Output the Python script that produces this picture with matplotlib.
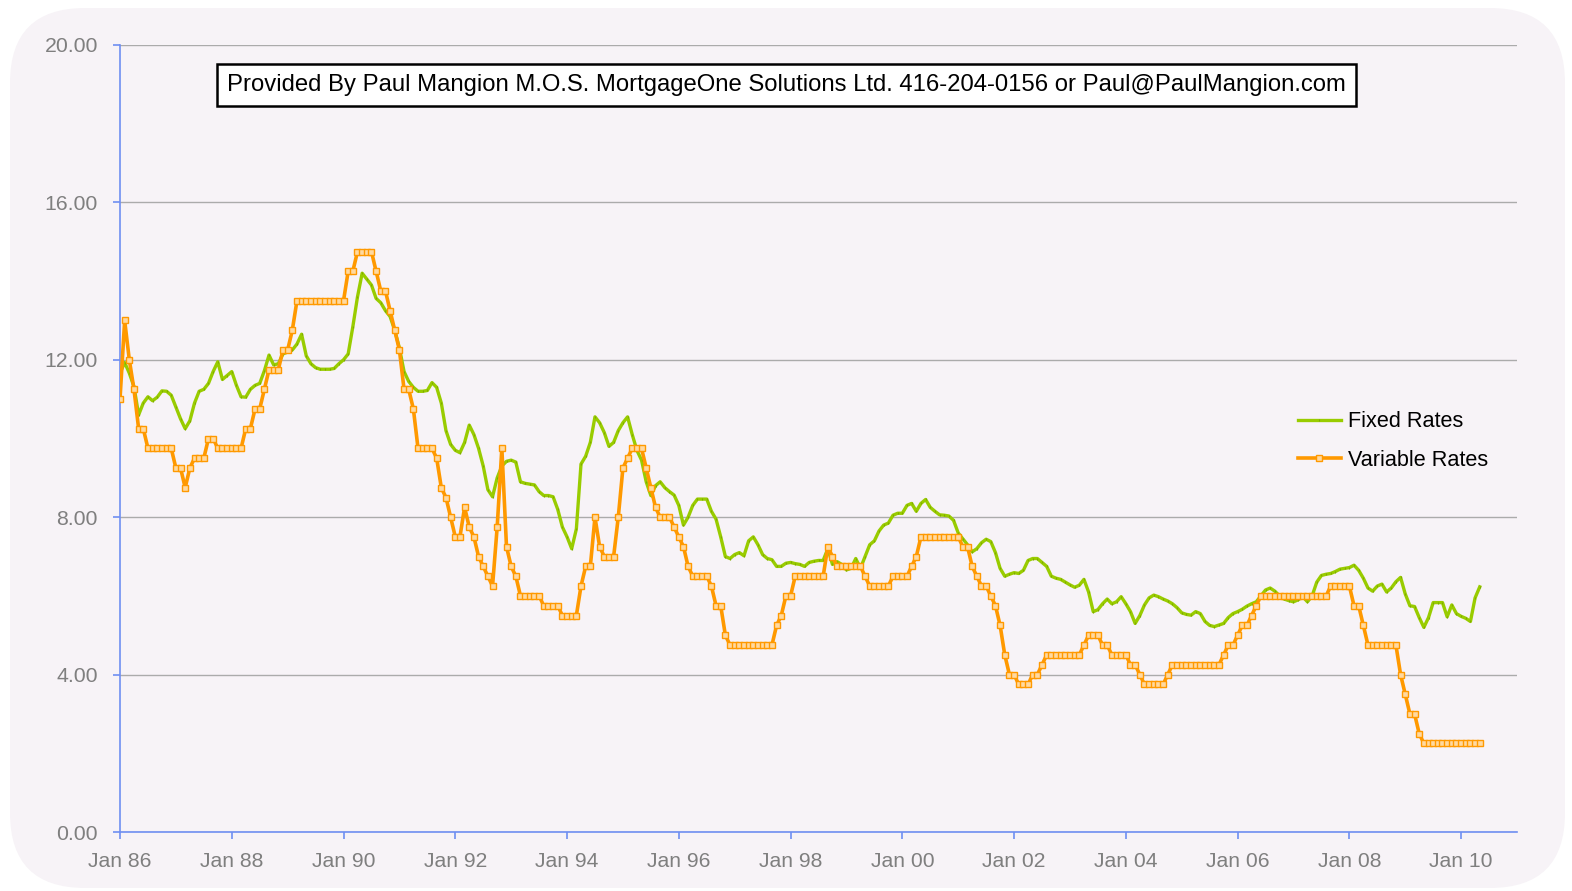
import matplotlib
matplotlib.use("Agg")
import matplotlib.pyplot as plt
from matplotlib.patches import FancyBboxPatch
import numpy as np

plt.rcParams["font.family"] = ["Liberation Sans", "DejaVu Sans"]

# monthly series, Jan 1986 .. May 2010
fixed_rates = [
    11.66, 11.93, 11.66, 11.32, 10.6, 10.9, 11.06, 10.96, 11.05, 11.21, 11.2, 11.1,      # 1986
    10.8, 10.5, 10.25, 10.45, 10.9, 11.2, 11.25, 11.4, 11.7, 11.95, 11.5, 11.6,         # 1987
    11.7, 11.35, 11.06, 11.05, 11.25, 11.35, 11.4, 11.72, 12.12, 11.87, 11.9, 12.15,    # 1988
    12.2, 12.25, 12.4, 12.65, 12.1, 11.9, 11.8, 11.76, 11.76, 11.76, 11.78, 11.9,       # 1989
    12.0, 12.15, 12.84, 13.6, 14.2, 14.05, 13.9, 13.56, 13.45, 13.25, 13.1, 12.75,      # 1990
    12.3, 11.7, 11.45, 11.3, 11.2, 11.2, 11.22, 11.42, 11.3, 10.9, 10.2, 9.85,          # 1991
    9.7, 9.64, 9.9, 10.34, 10.1, 9.75, 9.3, 8.7, 8.52, 9.0, 9.3, 9.42,                  # 1992
    9.45, 9.4, 8.9, 8.86, 8.84, 8.82, 8.65, 8.55, 8.55, 8.52, 8.2, 7.75,                # 1993
    7.5, 7.2, 7.7, 9.35, 9.55, 9.9, 10.55, 10.4, 10.15, 9.8, 9.9, 10.2,                 # 1994
    10.4, 10.55, 10.1, 9.7, 9.45, 8.9, 8.55, 8.8, 8.9, 8.75, 8.65, 8.56,                # 1995
    8.3, 7.8, 8.0, 8.3, 8.46, 8.46, 8.46, 8.15, 7.95, 7.5, 7.0, 6.95,                   # 1996
    7.05, 7.1, 7.02, 7.4, 7.5, 7.3, 7.05, 6.95, 6.92, 6.75, 6.75, 6.83,                 # 1997
    6.85, 6.82, 6.8, 6.75, 6.85, 6.88, 6.9, 6.9, 7.2, 6.8, 6.87, 6.8,                   # 1998
    6.66, 6.7, 6.95, 6.7, 7.0, 7.3, 7.4, 7.65, 7.8, 7.85, 8.05, 8.1,                    # 1999
    8.1, 8.3, 8.35, 8.15, 8.35, 8.45, 8.25, 8.15, 8.06, 8.05, 8.03, 7.92,               # 2000
    7.6, 7.45, 7.3, 7.12, 7.2, 7.35, 7.44, 7.38, 7.1, 6.7, 6.5, 6.55,                   # 2001
    6.59, 6.57, 6.65, 6.9, 6.95, 6.95, 6.85, 6.75, 6.5, 6.45, 6.42, 6.35,               # 2002
    6.28, 6.22, 6.27, 6.42, 6.1, 5.6, 5.65, 5.8, 5.92, 5.8, 5.85, 5.98,                 # 2003
    5.8, 5.6, 5.3, 5.5, 5.77, 5.95, 6.02, 5.98, 5.92, 5.87, 5.8, 5.7,                   # 2004
    5.57, 5.53, 5.51, 5.6, 5.55, 5.35, 5.25, 5.22, 5.26, 5.3, 5.45, 5.55,               # 2005
    5.6, 5.66, 5.74, 5.8, 5.85, 6.0, 6.15, 6.2, 6.12, 6.0, 5.92, 5.88,                  # 2006
    5.85, 5.9, 5.98, 5.85, 6.0, 6.35, 6.52, 6.55, 6.57, 6.62, 6.68, 6.7,                # 2007
    6.72, 6.78, 6.65, 6.45, 6.2, 6.12, 6.25, 6.3, 6.1, 6.2, 6.36, 6.47,                 # 2008
    6.05, 5.75, 5.73, 5.45, 5.2, 5.45, 5.83, 5.83, 5.83, 5.47, 5.77, 5.55,              # 2009
    5.48, 5.43, 5.35, 5.95, 6.23,                                                       # 2010
]

variable_rates = [
    11.0, 13.0, 12.0, 11.25, 10.25, 10.25, 9.75, 9.75, 9.75, 9.75, 9.75, 9.75,          # 1986
    9.25, 9.25, 8.75, 9.25, 9.5, 9.5, 9.5, 10.0, 10.0, 9.75, 9.75, 9.75,                # 1987
    9.75, 9.75, 9.75, 10.25, 10.25, 10.75, 10.75, 11.25, 11.75, 11.75, 11.75, 12.25,    # 1988
    12.25, 12.75, 13.5, 13.5, 13.5, 13.5, 13.5, 13.5, 13.5, 13.5, 13.5, 13.5,           # 1989
    13.5, 14.25, 14.25, 14.75, 14.75, 14.75, 14.75, 14.25, 13.75, 13.75, 13.25, 12.75,  # 1990
    12.25, 11.25, 11.25, 10.75, 9.75, 9.75, 9.75, 9.75, 9.5, 8.75, 8.5, 8.0,            # 1991
    7.5, 7.5, 8.25, 7.75, 7.5, 7.0, 6.75, 6.5, 6.25, 7.75, 9.75, 7.25,                  # 1992
    6.75, 6.5, 6.0, 6.0, 6.0, 6.0, 6.0, 5.75, 5.75, 5.75, 5.75, 5.5,                    # 1993
    5.5, 5.5, 5.5, 6.25, 6.75, 6.75, 8.0, 7.25, 7.0, 7.0, 7.0, 8.0,                     # 1994
    9.25, 9.5, 9.75, 9.75, 9.75, 9.25, 8.75, 8.25, 8.0, 8.0, 8.0, 7.75,                 # 1995
    7.5, 7.25, 6.75, 6.5, 6.5, 6.5, 6.5, 6.25, 5.75, 5.75, 5.0, 4.75,                   # 1996
    4.75, 4.75, 4.75, 4.75, 4.75, 4.75, 4.75, 4.75, 4.75, 5.25, 5.5, 6.0,               # 1997
    6.0, 6.5, 6.5, 6.5, 6.5, 6.5, 6.5, 6.5, 7.25, 7.0, 6.75, 6.75,                      # 1998
    6.75, 6.75, 6.75, 6.75, 6.5, 6.25, 6.25, 6.25, 6.25, 6.25, 6.5, 6.5,                # 1999
    6.5, 6.5, 6.75, 7.0, 7.5, 7.5, 7.5, 7.5, 7.5, 7.5, 7.5, 7.5,                        # 2000
    7.5, 7.25, 7.25, 6.75, 6.5, 6.25, 6.25, 6.0, 5.75, 5.25, 4.5, 4.0,                  # 2001
    4.0, 3.75, 3.75, 3.75, 4.0, 4.0, 4.25, 4.5, 4.5, 4.5, 4.5, 4.5,                     # 2002
    4.5, 4.5, 4.5, 4.75, 5.0, 5.0, 5.0, 4.75, 4.75, 4.5, 4.5, 4.5,                      # 2003
    4.5, 4.25, 4.25, 4.0, 3.75, 3.75, 3.75, 3.75, 3.75, 4.0, 4.25, 4.25,                # 2004
    4.25, 4.25, 4.25, 4.25, 4.25, 4.25, 4.25, 4.25, 4.25, 4.5, 4.75, 4.75,              # 2005
    5.0, 5.25, 5.25, 5.5, 5.75, 6.0, 6.0, 6.0, 6.0, 6.0, 6.0, 6.0,                      # 2006
    6.0, 6.0, 6.0, 6.0, 6.0, 6.0, 6.0, 6.0, 6.25, 6.25, 6.25, 6.25,                     # 2007
    6.25, 5.75, 5.75, 5.25, 4.75, 4.75, 4.75, 4.75, 4.75, 4.75, 4.75, 4.0,              # 2008
    3.5, 3.0, 3.0, 2.5, 2.25, 2.25, 2.25, 2.25, 2.25, 2.25, 2.25, 2.25,                 # 2009
    2.25, 2.25, 2.25, 2.25, 2.25,                                                       # 2010
]

tick_labels = ["Jan 86", "Jan 88", "Jan 90", "Jan 92", "Jan 94", "Jan 96",
               "Jan 98", "Jan 00", "Jan 02", "Jan 04", "Jan 06", "Jan 08", "Jan 10"]
y_ticks = [0, 4, 8, 12, 16, 20]

note = ("Provided By Paul Mangion M.O.S. MortgageOne Solutions Ltd. "
        "416-204-0156 or Paul@PaulMangion.com")

PANEL = "#F7F3F7"
GREEN = "#99CC00"
ORANGE = "#FF9900"
AXIS_BLUE = "#6F8FF2"

months = np.arange(len(fixed_rates))

fig = plt.figure(figsize=(15.72, 8.91), dpi=100)
fig.patch.set_facecolor("white")

# rounded chart-area panel behind the axes
panel = FancyBboxPatch((0.10, 0.03), 15.55, 8.80,
                       boxstyle="round,pad=0,rounding_size=0.75",
                       transform=fig.dpi_scale_trans,
                       facecolor=PANEL, edgecolor="none", zorder=-10)
fig.patches.append(panel)

ax = fig.add_axes([120 / 1572, 1 - 832 / 891, (1517 - 120) / 1572, (832 - 45) / 891])
ax.set_zorder(1)
ax.patch.set_visible(False)

ax.plot(months, fixed_rates, color=GREEN, lw=2.4, label="Fixed Rates", zorder=3,
        marker="|", ms=2, mew=0.8, mec="#7FAA00")
ax.plot(months, variable_rates, color=ORANGE, lw=2.6, label="Variable Rates", zorder=4,
        marker="s", ms=3.8, mfc="#FFD9A0", mec=ORANGE, mew=1.0)

ax.set_xlim(0, 300)
ax.set_ylim(0, 20)
ax.set_yticks(y_ticks)
ax.set_yticklabels([f"{v:.2f}" for v in y_ticks])
ax.set_xticks(np.arange(0, 24 * len(tick_labels), 24))
ax.set_xticklabels(tick_labels)

ax.grid(axis="y", color="#ABABAB", lw=1.0)
ax.set_axisbelow(True)
for s in ("top", "right"):
    ax.spines[s].set_visible(False)
for s in ("left", "bottom"):
    ax.spines[s].set_color(AXIS_BLUE)
    ax.spines[s].set_linewidth(1.2)
ax.tick_params(axis="y", colors=AXIS_BLUE, length=5, width=1.2, pad=11,
               labelcolor="#7F7F7F", labelsize=15.3)
ax.tick_params(axis="x", colors=AXIS_BLUE, length=5, width=1.2, pad=9.5,
               labelcolor="#7F7F7F", labelsize=15.2)

ax.text(0.477, 0.949, note, transform=ax.transAxes, ha="center", va="center",
        fontsize=17.2, color="black",
        bbox=dict(boxstyle="square,pad=0.42", fc="white", ec="black", lw=1.8))

leg = ax.legend(loc="center left", bbox_to_anchor=(0.843, 0.497), frameon=False,
                fontsize=15.6, handlelength=2.0, handletextpad=0.3,
                labelspacing=0.8, borderpad=0, borderaxespad=0)

fig.savefig("out.png", dpi=100, facecolor=fig.get_facecolor())
